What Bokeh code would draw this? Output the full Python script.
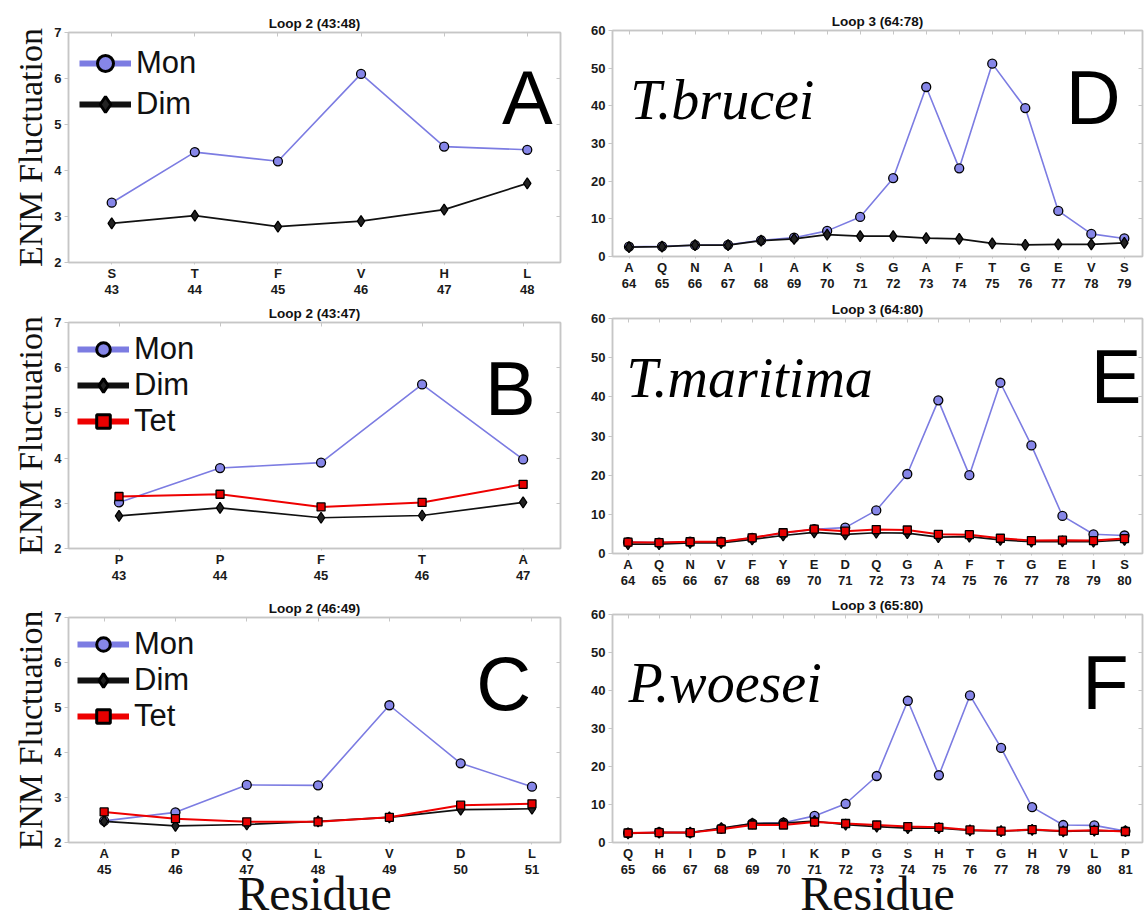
import math
from bokeh.plotting import figure
from bokeh.layouts import row, column
from bokeh.models import Range1d, FixedTicker, LinearAxis, Legend, LegendItem, Label
from bokeh.embed import file_html
from bokeh.resources import INLINE

# ---------------- data ----------------
# Panel A  Loop 2 (43:48)
a_num = [43, 44, 45, 46, 47, 48]
a_res = ["S", "T", "F", "V", "H", "L"]
a_mon = [3.30, 4.40, 4.20, 6.10, 4.52, 4.45]
a_dim = [2.85, 3.02, 2.78, 2.90, 3.15, 3.72]

# Panel B  Loop 2 (43:47)
b_num = [43, 44, 45, 46, 47]
b_res = ["P", "P", "F", "T", "A"]
b_mon = [3.02, 3.78, 3.90, 5.63, 3.97]
b_dim = [2.72, 2.90, 2.68, 2.73, 3.02]
b_tet = [3.15, 3.20, 2.92, 3.02, 3.42]

# Panel C  Loop 2 (46:49)
c_num = [45, 46, 47, 48, 49, 50, 51]
c_res = ["A", "P", "Q", "L", "V", "D", "L"]
c_mon = [2.48, 2.67, 3.28, 3.27, 5.05, 3.76, 3.24]
c_dim = [2.47, 2.37, 2.40, 2.47, 2.56, 2.73, 2.75]
c_tet = [2.68, 2.53, 2.46, 2.46, 2.56, 2.83, 2.86]

# Panel D  Loop 3 (64:78)  T.brucei
d_num = list(range(64, 80))
d_res = ["A", "Q", "N", "A", "I", "A", "K", "S", "G", "A", "F", "T", "G", "E", "V", "S"]
d_mon = [2.6, 2.7, 3.0, 3.1, 4.3, 5.0, 6.8, 10.5, 20.8, 45.0, 23.4, 51.2, 39.4, 12.1, 6.0, 4.8]
d_dim = [2.5, 2.6, 3.0, 3.0, 4.2, 4.7, 5.8, 5.4, 5.4, 4.9, 4.7, 3.5, 3.1, 3.2, 3.2, 3.6]

# Panel E  Loop 3 (64:80)  T.maritima
e_num = list(range(64, 81))
e_res = ["A", "Q", "N", "V", "F", "Y", "E", "D", "Q", "G", "A", "F", "T", "G", "E", "I", "S"]
e_mon = [2.9, 2.8, 3.0, 3.0, 4.0, 5.2, 6.2, 6.6, 11.0, 20.3, 39.1, 20.0, 43.6, 27.6, 9.6, 4.9, 4.6]
e_dim = [2.4, 2.4, 2.7, 2.7, 3.6, 4.6, 5.4, 4.9, 5.3, 5.2, 4.2, 4.3, 3.5, 3.0, 3.1, 3.0, 3.5]
e_tet = [2.9, 2.8, 3.0, 3.0, 4.0, 5.3, 6.2, 5.7, 6.1, 6.0, 4.9, 4.8, 3.9, 3.3, 3.4, 3.3, 3.8]

# Panel F  Loop 3 (65:80)  P.woesei
f_num = list(range(65, 82))
f_res = ["Q", "H", "I", "D", "P", "I", "K", "P", "G", "S", "H", "T", "G", "H", "V", "L", "P"]
f_mon = [2.5, 2.7, 2.6, 3.7, 5.0, 5.2, 7.0, 10.2, 17.5, 37.3, 17.7, 38.7, 24.9, 9.3, 4.6, 4.5, 3.0]
f_dim = [2.4, 2.6, 2.6, 3.8, 5.0, 5.1, 5.6, 4.7, 4.2, 3.8, 3.8, 3.2, 3.0, 3.3, 2.9, 3.1, 3.0]
f_tet = [2.5, 2.6, 2.6, 3.5, 4.6, 4.6, 5.4, 5.0, 4.6, 4.2, 4.0, 3.3, 3.0, 3.4, 3.0, 3.2, 2.9]

left_yticks = [2, 3, 4, 5, 6, 7]
right_yticks = [0, 10, 20, 30, 40, 50, 60]

# ---------------- styles ----------------
GRAY = "#c6c6c6"
MON_LINE = "#7c7ce2"
MON_FILL = "#8686e8"
DIM_COL = "#111111"
TET_COL = "#ee0000"
SANS = "Liberation Sans"
SERIF = "Liberation Serif"
NAN = [float("nan")]


def make_panel(title, nums, res, series, xr, yr, yticks, w, h, borders,
               letter, letter_pos, species=None, sp_pos=None, legend_cfg=None,
               ylabel=False, xlabel=False):
    l, r, t, b = borders
    p = figure(width=w, height=h, x_range=Range1d(*xr), y_range=Range1d(*yr),
               output_backend="svg", toolbar_location=None,
               min_border_left=l, min_border_right=r, min_border_top=t, min_border_bottom=b,
               outline_line_color=GRAY, outline_line_width=1.5,
               background_fill_color="white", border_fill_color="white", title=title)
    p.grid.visible = False
    p.title.align = "center"
    p.title.text_font = SANS
    p.title.text_font_size = "13.5px"
    p.title.text_font_style = "bold"
    p.title.text_color = "#111111"
    p.title.standoff = 4

    # bottom / left axes
    xa = p.xaxis[0]
    xa.ticker = FixedTicker(ticks=nums)
    xa.major_label_overrides = {n: f"{s}\n{n}" for n, s in zip(nums, res)}
    ya = p.yaxis[0]
    ya.ticker = FixedTicker(ticks=yticks)
    for ax in (xa, ya):
        ax.axis_line_color = GRAY
        ax.axis_line_width = 1.5
        ax.major_tick_line_color = GRAY
        ax.major_tick_in = 0
        ax.minor_tick_line_color = None
        ax.major_label_text_font = SANS
        ax.major_label_text_font_style = "bold"
        ax.major_label_text_font_size = "13px"
        ax.major_label_text_color = "#1a1a1a"
    xa.major_tick_out = 2
    xa.major_label_standoff = 1
    ya.major_tick_out = 4
    ya.major_label_standoff = 3
    xa.major_label_text_line_height = 1.08

    # mirrored ticks on top and right
    top = LinearAxis(ticker=FixedTicker(ticks=nums))
    rgt = LinearAxis(ticker=FixedTicker(ticks=yticks))
    for ax in (top, rgt):
        ax.axis_line_color = GRAY
        ax.axis_line_width = 1.5
        ax.major_tick_line_color = GRAY
        ax.major_tick_in = 4
        ax.major_tick_out = 0
        ax.minor_tick_line_color = None
        ax.major_label_text_alpha = 0
        ax.major_label_text_font_size = "1px"
        ax.major_label_standoff = 0
    p.add_layout(top, "above")
    p.add_layout(rgt, "right")

    if ylabel:
        ya.axis_label = "ENM Fluctuation"
        ya.axis_label_text_font = SERIF
        ya.axis_label_text_font_size = "34px"
        ya.axis_label_text_font_style = "normal"
        ya.axis_label_text_color = "#111111"
        ya.axis_label_standoff = 2
    if xlabel:
        xa.axis_label = "Residue"
        xa.axis_label_text_font = SERIF
        xa.axis_label_text_font_size = "48px"
        xa.axis_label_text_font_style = "normal"
        xa.axis_label_text_color = "#111111"
        xa.axis_label_standoff = -13

    styles = {
        "Mon": dict(line=MON_LINE, lw=1.6, marker="circle", size=9, fill=MON_FILL),
        "Dim": dict(line=DIM_COL, lw=1.7, marker="diamond", size=11, fill="#222222"),
        "Tet": dict(line=TET_COL, lw=2.0, marker="square", size=8, fill="#e80000"),
    }
    items = []
    for name, vals in series:
        st = styles[name]
        p.line(nums, vals, line_color=st["line"], line_width=st["lw"])
        p.scatter(nums, vals, marker=st["marker"], size=st["size"], fill_color=st["fill"],
                  line_color="black", line_width=1.3)
        if legend_cfg is not None:
            dl = p.line(NAN, NAN, line_color=st["line"], line_width=6)
            ds = p.scatter(NAN, NAN, marker=st["marker"], fill_color=st["fill"],
                           line_color="black", line_width=3)
            items.append(LegendItem(label=name, renderers=[dl, ds]))

    if items:
        margin, padding, spacing, gh = legend_cfg
        lg = Legend(items=items, location="top_left", margin=margin, padding=padding,
                    spacing=spacing, glyph_width=52, glyph_height=gh, label_height=gh,
                    label_standoff=5, label_text_font=SANS, label_text_font_size="31px",
                    label_text_color="#111111",
                    background_fill_alpha=0, border_line_alpha=0)
        p.add_layout(lg)

    fw = w - l - r
    fh = h - t - b
    xs = (xr[1] - xr[0]) / fw
    ys = (yr[1] - yr[0]) / fh
    roff, boff = letter_pos
    p.add_layout(Label(x=xr[1] - roff * xs, y=yr[1] - boff * ys, text=letter,
                       text_align="right", text_baseline="alphabetic",
                       text_font=SANS, text_font_size="76px", text_color="black"))
    if species:
        loff, sboff = sp_pos
        p.add_layout(Label(x=xr[0] + loff * xs, y=yr[1] - sboff * ys, text=species,
                           text_align="left", text_baseline="alphabetic",
                           text_font=SERIF, text_font_style="italic",
                           text_font_size="56px", text_color="black"))
    return p


LW = 575
RW = 569

pA = make_panel("Loop 2 (43:48)", a_num, a_res, [("Mon", a_mon), ("Dim", a_dim)],
                (42.48, 48.4), (2, 7), left_yticks, LW, 300, (62, 15, 32, 38),
                "A", (8, 65), legend_cfg=(5, 6, 1, 40), ylabel=True)
pB = make_panel("Loop 2 (43:47)", b_num, b_res, [("Mon", b_mon), ("Dim", b_dim), ("Tet", b_tet)],
                (42.5, 47.37), (2, 7), left_yticks, LW, 290, (62, 15, 22, 42),
                "B", (25, 66), legend_cfg=(4, 5, 0, 34), ylabel=True)
pC = make_panel("Loop 2 (46:49)", c_num, c_res, [("Mon", c_mon), ("Dim", c_dim), ("Tet", c_tet)],
                (44.5, 51.4), (2, 7), left_yticks, LW, 332, (68, 5, 27, 80),
                "C", (30, 66), legend_cfg=(4, 5, 0, 34), ylabel=True, xlabel=True)

pD = make_panel("Loop 3 (64:78)", d_num, d_res, [("Mon", d_mon), ("Dim", d_dim)],
                (63.5, 79.55), (0, 60), right_yticks, RW, 293, (33, 2, 30, 36),
                "D", (22, 67), species="T.brucei", sp_pos=(18, 70))
pE = make_panel("Loop 3 (64:80)", e_num, e_res, [("Mon", e_mon), ("Dim", e_dim), ("Tet", e_tet)],
                (63.5, 80.58), (0, 60), right_yticks, RW, 297, (37, 2, 25, 35),
                "E", (1, 58), species="T.maritima", sp_pos=(14, 60))
pF = make_panel("Loop 3 (65:80)", f_num, f_res, [("Mon", f_mon), ("Dim", f_dim), ("Tet", f_tet)],
                (64.5, 81.55), (0, 60), right_yticks, RW, 332, (33, 2, 24, 80),
                "F", (14, 68), species="P.woesei", sp_pos=(16, 68), xlabel=True)

layout = row(column(pA, pB, pC, spacing=0), column(pD, pE, pF, spacing=0), spacing=0)

open("out.html", "w").write(file_html(layout, INLINE))
